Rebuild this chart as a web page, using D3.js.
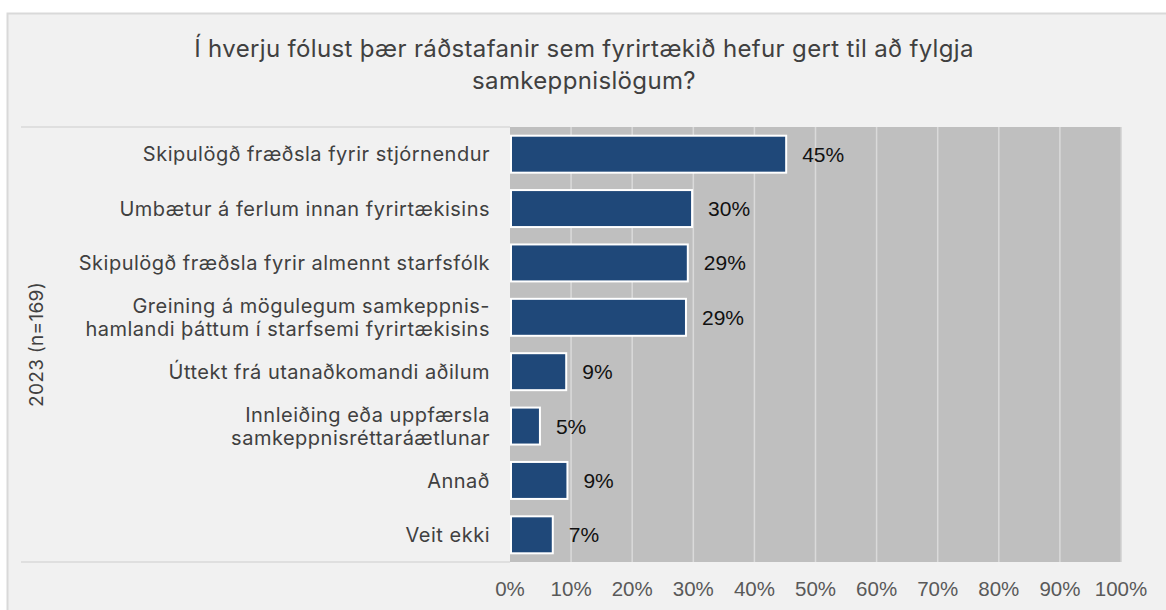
<!DOCTYPE html>
<html lang="is">
<head>
    <meta charset="UTF-8">
    <title>Samkeppnislög</title>
    <style>
        body { margin: 0; background: #ffffff; }
        svg { display: block; }
        .title { font-family: 'Inter', 'Noto Sans', sans-serif; font-size: 24px; letter-spacing: 0.35px; fill: #404040; }
        .cat { font-family: 'Inter', 'Noto Sans', sans-serif; font-size: 20px; letter-spacing: 0.5px; fill: #404040; }
        .grp { font-family: 'Inter', 'Noto Sans', sans-serif; font-size: 19px; letter-spacing: 0.3px; fill: #404040; }
        .tick-label { font-family: 'Liberation Sans', Arial, sans-serif; font-size: 20.5px; fill: #595959; }
        .val { font-family: 'Liberation Sans', Arial, sans-serif; font-size: 21px; fill: #111111; }
    </style>
</head>
<body>
<div id="chart"></div>
<script src="https://cdnjs.cloudflare.com/ajax/libs/d3/7.8.5/d3.min.js"></script>
<script>
    // chart data
    const categories = [
        ["Skipulögð fræðsla fyrir stjórnendur"],
        ["Umbætur á ferlum innan fyrirtækisins"],
        ["Skipulögð fræðsla fyrir almennt starfsfólk"],
        ["Greining á mögulegum samkeppnis-", "hamlandi þáttum í starfsemi fyrirtækisins"],
        ["Úttekt frá utanaðkomandi aðilum"],
        ["Innleiðing eða uppfærsla", "samkeppnisréttaráætlunar"],
        ["Annað"],
        ["Veit ekki"]
    ];
    const values = [45.2, 29.8, 29.1, 28.8, 9.2, 4.9, 9.4, 7.0];
    const xTicks = [0, 10, 20, 30, 40, 50, 60, 70, 80, 90, 100];
    const titleLines = ["Í hverju fólust þær ráðstafanir sem fyrirtækið hefur gert til að fylgja", "samkeppnislögum?"];
    const groupLabel = "2023 (n=169)";

    const width = 1166, height = 610;
    const plot = { left: 510, right: 1121, top: 127, bottom: 562 };

    const svg = d3.select("#chart").append("svg")
        .attr("width", width)
        .attr("height", height);

    // outer frame
    svg.append("rect")
        .attr("x", 7.5).attr("y", 13.5)
        .attr("width", width).attr("height", height)
        .attr("fill", "#f1f1f1")
        .attr("stroke", "#d9d9d9")
        .attr("stroke-width", 2);

    // title
    svg.append("text")
        .attr("class", "title")
        .attr("text-anchor", "middle")
        .selectAll("tspan")
        .data(titleLines)
        .join("tspan")
        .attr("x", 584)
        .attr("y", (d, i) => 57 + i * 32)
        .text(d => d);

    const x = d3.scaleLinear().domain([0, 100]).range([plot.left, plot.right]);
    const y = d3.scaleBand()
        .domain(d3.range(categories.length))
        .range([plot.top, plot.bottom])
        .paddingInner(0.32)
        .paddingOuter(0.16);

    // plot background
    svg.append("rect")
        .attr("x", plot.left).attr("y", plot.top)
        .attr("width", plot.right - plot.left)
        .attr("height", plot.bottom - plot.top)
        .attr("fill", "#bfbfbf");

    // separator lines across the label column
    [plot.top, plot.bottom].forEach(yy => {
        svg.append("line")
            .attr("x1", 21).attr("x2", plot.left)
            .attr("y1", yy).attr("y2", yy)
            .attr("stroke", "#d9d9d9")
            .attr("stroke-width", 1.5);
    });

    // gridlines
    svg.append("g")
        .selectAll("line")
        .data(xTicks.slice(1))
        .join("line")
        .attr("x1", d => x(d)).attr("x2", d => x(d))
        .attr("y1", plot.top).attr("y2", plot.bottom)
        .attr("stroke", d => d === 100 ? "#d0d0d0" : "#dadada")
        .attr("stroke-width", 1.5);

    // x axis labels
    svg.append("g")
        .selectAll("text")
        .data(xTicks)
        .join("text")
        .attr("class", "tick-label")
        .attr("x", d => x(d))
        .attr("y", 596)
        .attr("text-anchor", "middle")
        .text(d => d + "%");

    // bars
    svg.append("g")
        .selectAll("rect")
        .data(values)
        .join("rect")
        .attr("x", x(0) + 1)
        .attr("y", (d, i) => y(i))
        .attr("width", d => x(d) - x(0) - 1)
        .attr("height", y.bandwidth())
        .attr("fill", "#1f4879")
        .attr("stroke", "#ffffff")
        .attr("stroke-width", 2);

    // value labels
    svg.append("g")
        .selectAll("text")
        .data(values)
        .join("text")
        .attr("class", "val")
        .attr("x", d => x(d) + 16)
        .attr("y", (d, i) => y(i) + y.bandwidth() / 2)
        .attr("dy", "0.36em")
        .text(d => Math.round(d) + "%");

    // category labels
    const catG = svg.append("g");
    categories.forEach((lines, i) => {
        const cy = y(i) + y.bandwidth() / 2;
        const lh = 23;
        catG.append("text")
            .attr("class", "cat")
            .attr("text-anchor", "end")
            .selectAll("tspan")
            .data(lines)
            .join("tspan")
            .attr("x", 490)
            .attr("y", (d, j) => cy + (j - (lines.length - 1) / 2) * lh)
            .attr("dy", "0.36em")
            .text(d => d);
    });

    // group label
    svg.append("text")
        .attr("class", "grp")
        .attr("text-anchor", "middle")
        .attr("transform", `translate(43,${(plot.top + plot.bottom) / 2}) rotate(-90)`)
        .text(groupLabel);
</script>
</body>
</html>
